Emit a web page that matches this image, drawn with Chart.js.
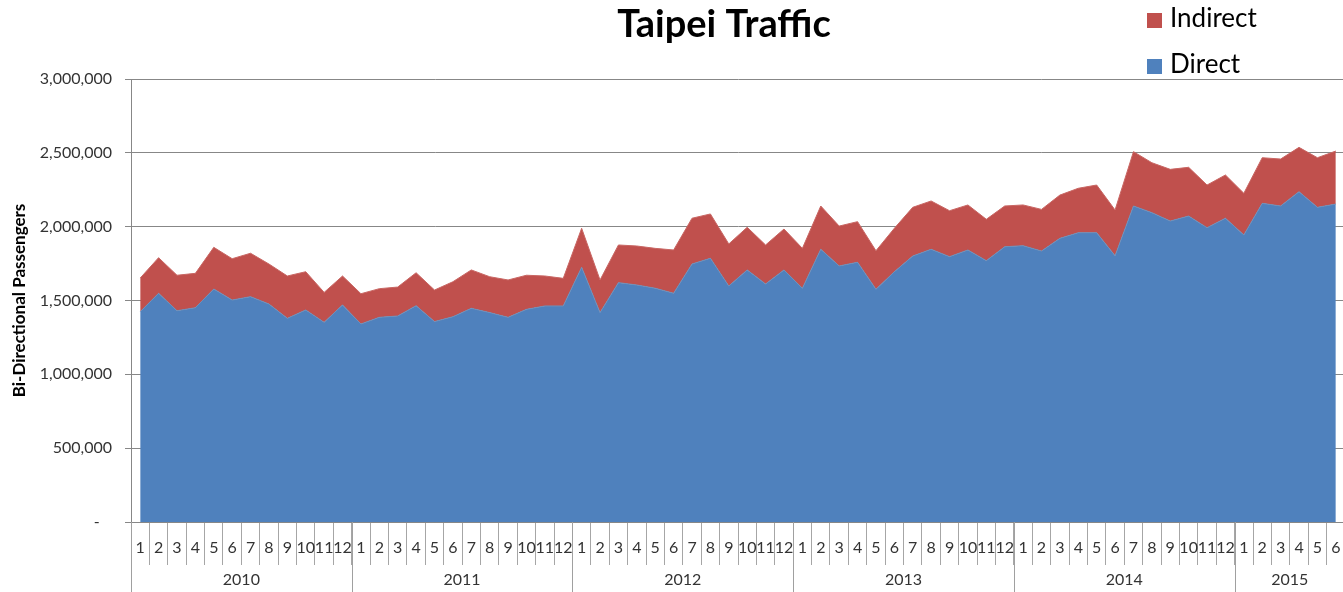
<!DOCTYPE html>
<html>
<head>
<meta charset="utf-8">
<title>Taipei Traffic</title>
<script src="https://cdn.jsdelivr.net/npm/chart.js@4.4.1/dist/chart.umd.min.js"></script>
<style>
  html, body { margin: 0; padding: 0; background: #fff; overflow: hidden; }
  #wrap { width: 1360px; height: 592px; position: relative; }
</style>
</head>
<body>
<div id="wrap"><canvas id="chart"></canvas></div>
<script>
// Années affichées sous l'axe, et nombre de mois de chaque année
const years = ['2010', '2011', '2012', '2013', '2014', '2015']
const monthsPerYear = [12, 12, 12, 12, 12, 6]

// Libellés des mois (1..12 par année)
const monthLabels = []
monthsPerYear.forEach(n => {
  for (let m = 1; m <= n; m++) monthLabels.push(String(m))
})

const direct = [
  1424000, 1549000, 1431000, 1451000, 1578000, 1503000, 1526000, 1476000, 1379000, 1436000, 1352000, 1470000,
  1341000, 1386000, 1395000, 1465000, 1357000, 1390000, 1447000, 1418000, 1386000, 1440000, 1463000, 1463000,
  1725000, 1418000, 1621000, 1605000, 1583000, 1549000, 1747000, 1786000, 1598000, 1707000, 1612000, 1707000,
  1583000, 1847000, 1734000, 1759000, 1576000, 1695000, 1801000, 1847000, 1797000, 1842000, 1770000, 1864000,
  1871000, 1835000, 1921000, 1959000, 1959000, 1803000, 2140000, 2095000, 2038000, 2072000, 1993000, 2057000,
  1944000, 2158000, 2140000, 2237000, 2131000, 2153000
]

const indirect = [
  228000, 241000, 240000, 233000, 282000, 280000, 294000, 271000, 287000, 259000, 203000, 196000,
  205000, 194000, 196000, 223000, 214000, 237000, 260000, 243000, 253000, 231000, 203000, 187000,
  264000, 221000, 255000, 264000, 270000, 293000, 310000, 300000, 285000, 289000, 264000, 277000,
  270000, 293000, 270000, 275000, 261000, 294000, 330000, 327000, 311000, 305000, 280000, 276000,
  276000, 282000, 293000, 301000, 323000, 310000, 368000, 338000, 350000, 330000, 289000, 293000,
  282000, 309000, 318000, 300000, 336000, 359000
]

const yTicks = [0, 500000, 1000000, 1500000, 2000000, 2500000, 3000000]

const AZUL = '#4F81BD'
const VERMELHO = '#C0504D'
const FONTE = 'Lato, "Open Sans", sans-serif'

// Título e legenda desenhados à mão (posição igual ao Excel)
const tituloLegenda = {
  id: 'tituloLegenda',
  afterDraw(chart) {
    const ctx = chart.ctx
    ctx.save()
    ctx.fillStyle = '#000'
    ctx.font = `bold 38px ${FONTE}`
    ctx.textAlign = 'center'
    ctx.textBaseline = 'alphabetic'
    ctx.fillText('Taipei Traffic', 724, 37)

    const ds = chart.data.datasets.slice().reverse()
    ctx.font = `26px ${FONTE}`
    ctx.textAlign = 'left'
    ds.forEach((d, i) => {
      const base = 27 + i * 46
      ctx.fillStyle = d.backgroundColor
      ctx.fillRect(1147, base - 14, 15, 15)
      ctx.fillStyle = '#000'
      ctx.fillText(d.label, 1170, base)
    })
    ctx.restore()
  }
}

// Anos por baixo dos meses, com separadores compridos
const anosEixo = {
  id: 'anosEixo',
  afterDraw(chart) {
    const x = chart.scales.x
    const ctx = chart.ctx
    const w = x.getPixelForValue(1) - x.getPixelForValue(0)
    ctx.save()
    ctx.strokeStyle = '#a0a0a0'
    ctx.lineWidth = 1
    ctx.fillStyle = '#333'
    ctx.font = `16px ${FONTE}`
    ctx.textAlign = 'center'
    ctx.textBaseline = 'middle'
    let idx = 0
    years.forEach((ano, i) => {
      const ini = x.getPixelForValue(idx) - w / 2
      const fim = x.getPixelForValue(idx + monthsPerYear[i] - 1) + w / 2
      const px = Math.round(ini) + 0.5
      ctx.beginPath()
      ctx.moveTo(px, x.top)
      ctx.lineTo(px, chart.height)
      ctx.stroke()
      ctx.fillText(ano, (ini + fim) / 2, 580)
      idx += monthsPerYear[i]
    })
    ctx.restore()
  }
}

const ctx = document.getElementById('chart').getContext('2d')
new Chart(ctx, {
  type: 'line',
  data: {
    labels: monthLabels,
    datasets: [
      {
        label: 'Direct',
        data: direct,
        backgroundColor: AZUL,
        borderColor: '#6f8fb8',
        borderWidth: 1,
        pointRadius: 0,
        fill: 'origin',
        tension: 0
      },
      {
        label: 'Indirect',
        data: indirect,
        backgroundColor: VERMELHO,
        borderColor: '#c86663',
        borderWidth: 1,
        pointRadius: 0,
        fill: '-1',
        tension: 0
      }
    ]
  },
  options: {
    responsive: true,
    maintainAspectRatio: false,
    animation: false,
    layout: { padding: { top: 79, right: 15, bottom: 0, left: 0 } },
    plugins: {
      legend: { display: false },
      title: { display: false },
      tooltip: { enabled: false }
    },
    scales: {
      x: {
        type: 'category',
        offset: true,
        afterFit: s => { s.height = 70 },
        grid: { offset: true, drawOnChartArea: false, tickLength: 43, color: '#a6a6a6' },
        border: { display: true, color: '#878787' },
        ticks: {
          autoSkip: false,
          maxRotation: 0,
          minRotation: 0,
          padding: -27,
          color: '#333',
          font: { family: FONTE, size: 16 }
        }
      },
      y: {
        stacked: true,
        min: 0,
        max: 3000000,
        afterFit: s => { s.width = 131 },
        afterBuildTicks: s => { s.ticks = yTicks.map(v => ({ value: v })) },
        grid: { color: '#878787', tickLength: 6 },
        border: { display: true, color: '#878787' },
        ticks: {
          padding: 13,
          color: '#333',
          font: { family: FONTE, size: 16 },
          callback: v => v === 0 ? '-   ' : Number(v).toLocaleString('en-US')
        },
        title: {
          display: true,
          text: 'Bi-Directional Passengers',
          color: '#000',
          font: { family: FONTE, size: 17, weight: 'bold' },
          padding: { top: 9, bottom: 0 }
        }
      }
    }
  },
  plugins: [tituloLegenda, anosEixo]
})
</script>
</body>
</html>
